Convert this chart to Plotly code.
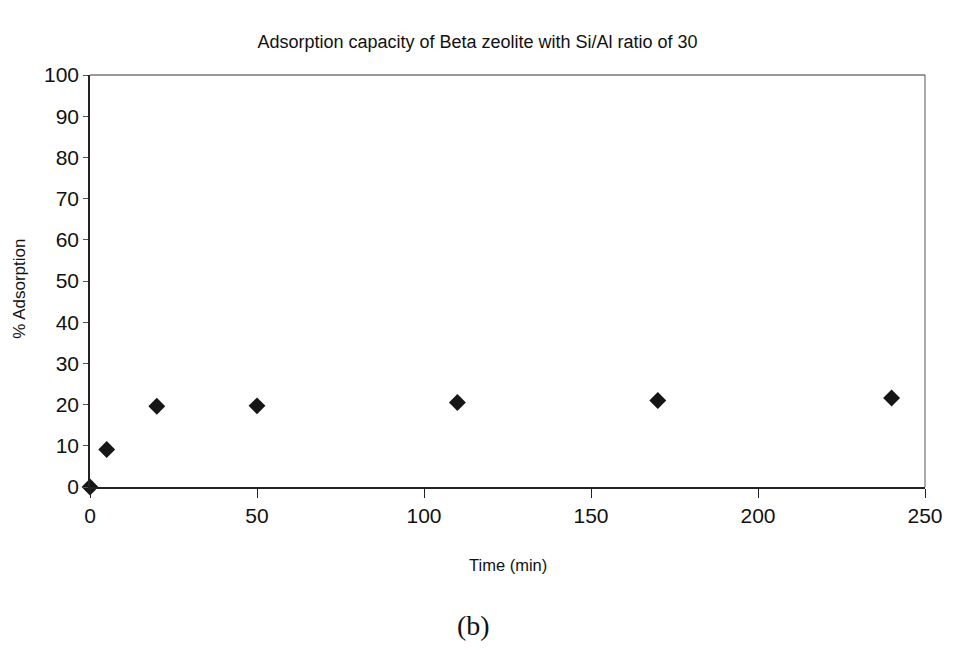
import plotly.graph_objects as go

# Adsorption measurements for Beta zeolite (Si/Al = 30)
time_min = [0, 5, 20, 50, 110, 170, 240]
adsorption_pct = [0, 9.1, 19.6, 19.7, 20.5, 21.0, 21.6]

x_ticks = [0, 50, 100, 150, 200, 250]
y_ticks = [0, 10, 20, 30, 40, 50, 60, 70, 80, 90, 100]

W, H = 955, 651
L, R, T, B = 90, 21, 75, 164
PW, PH = W - L - R, H - T - B

fig = go.Figure()
fig.add_trace(go.Scatter(
    x=time_min, y=adsorption_pct, mode="markers",
    marker=dict(symbol="diamond", size=13, color="#161616",
                line=dict(width=0)),
    cliponaxis=False, showlegend=False,
))

sans = "Liberation Sans Narrow, Liberation Sans, Arial"
tick_font = dict(family=sans, size=21, color="#111")

fig.update_layout(
    width=W, height=H,
    margin=dict(l=L, r=R, t=T, b=B),
    paper_bgcolor="white", plot_bgcolor="white",
    title=dict(text="Adsorption capacity of Beta zeolite with Si/Al ratio of 30",
               x=0.5, xanchor="center", y=1 - 42 / H, yanchor="middle",
               font=dict(family=sans, size=18, color="#111")),
    xaxis=dict(range=[0, 250], tickvals=x_ticks, ticks="outside", ticklen=9,
               tickcolor="#222", showline=True, linecolor="#222", linewidth=1.5,
               showgrid=False, zeroline=False, tickfont=tick_font),
    yaxis=dict(range=[0, 100], tickvals=y_ticks, ticks="outside", ticklen=5,
               tickcolor="#555", showline=True, linecolor="#222", linewidth=1.5,
               showgrid=False, zeroline=False, tickfont=tick_font),
    shapes=[
        dict(type="line", xref="paper", yref="paper", x0=0, x1=1, y0=1, y1=1,
             line=dict(color="#333", width=1)),
        dict(type="line", xref="paper", yref="paper", x0=1, x1=1, y0=0, y1=1,
             line=dict(color="#555", width=1)),
    ],
    annotations=[
        dict(text="Time (min)", xref="paper", yref="paper",
             x=0.5, y=-(565 - (T + PH)) / PH, xanchor="center", yanchor="middle",
             showarrow=False, font=dict(family=sans, size=16.5, color="#111")),
        dict(text="% Adsorption", xref="paper", yref="paper", textangle=-90,
             x=-(L - 18) / PW, y=(T + PH - 289) / PH, xanchor="center", yanchor="middle",
             showarrow=False, font=dict(family=sans, size=17, color="#111")),
        dict(text="(b)", xref="paper", yref="paper",
             x=(478 - L) / PW, y=-(625 - (T + PH)) / PH,
             xanchor="center", yanchor="middle", showarrow=False,
             font=dict(family="Liberation Serif, Times New Roman", size=28, color="#111")),
    ],
)

fig.write_html("out.html")
